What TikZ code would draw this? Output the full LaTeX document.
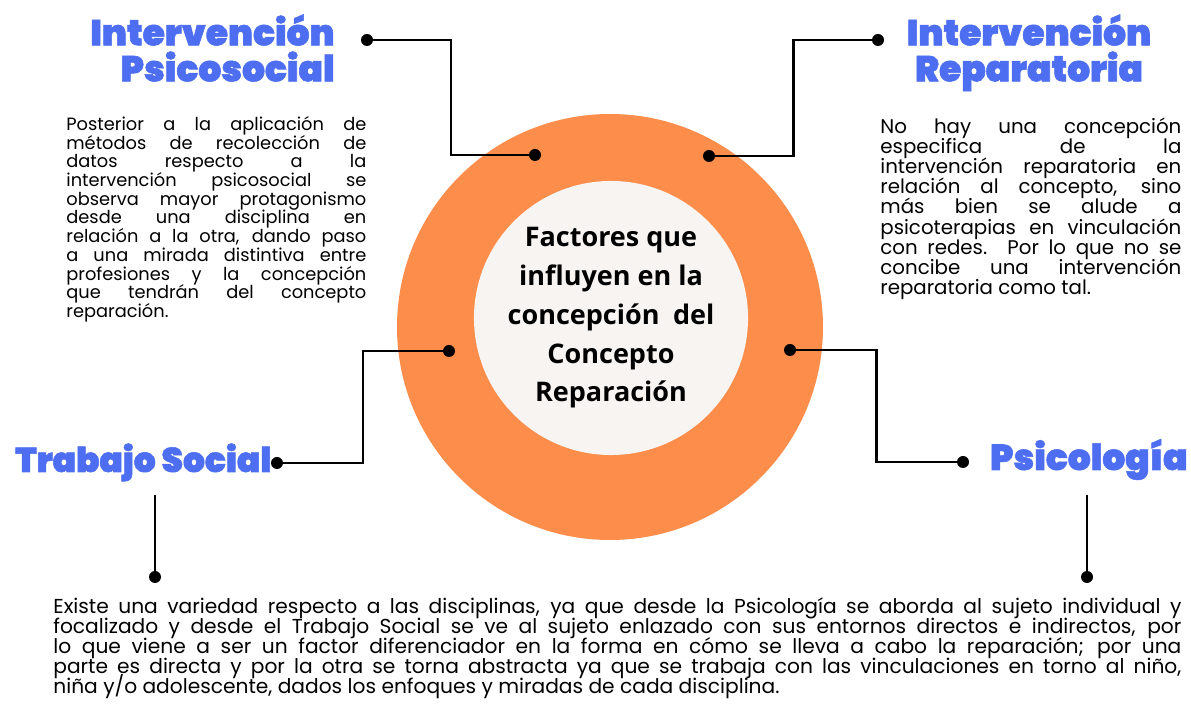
\documentclass[tikz,border=0pt]{standalone}
\usepackage{fontspec}
\setmainfont{Poppins}
\newfontfamily\headfont{Poppins Black}[FakeBold=1.5]
\newfontfamily\corefont{Open Sans}
\usetikzlibrary{calc}
\definecolor{titleblue}{RGB}{77,110,240}
\definecolor{ringorange}{RGB}{252,141,74}
\definecolor{corewhite}{RGB}{247,244,242}

\begin{document}
\begin{tikzpicture}[x=0.5pt,y=-0.5pt,dot/.style={circle,fill=black,inner sep=0pt,minimum size=6pt},link/.style={line width=1.4pt},title/.style={text=titleblue,font=\headfont\fontsize{18}{18}\selectfont,inner sep=0pt},body/.style={align=justify,inner sep=0pt,anchor=north west,execute at begin node={\lineskiplimit=-100pt\relax\lineskip=0pt\relax}}]
\useasboundingbox[fill=white] (0,0) rectangle (1191,705);

\node[circle,fill=ringorange,minimum size=213pt,inner sep=0pt] (ring) at (610,327) {};
\node[circle,fill=corewhite,minimum size=131pt,inner sep=0pt,align=center,font=\corefont\bfseries\fontsize{13.5}{19.4}\selectfont] (core) at (611,318) {Factores que\\influyen en la\\concepción\enspace del\\Concepto\\Reparación};

\node[title,anchor=north east,align=right] (psicosocial) at (335,14) {Intervención\\Psicosocial};
\node[title,anchor=north,align=center] (reparatoria) at (1029,14) {Intervención\\Reparatoria};
\node[title,anchor=base west,font=\headfont\fontsize{17.2}{18}\selectfont] (trabajo) at (15,472) {Trabajo Social};
\node[title,anchor=base east] (psicologia) at (1188,470) {Psicología};

\node[body,text width=150pt,font=\fontsize{8.9}{9.35}\selectfont] (psicosocialText) at (66,116) {Posterior a la aplicación de\linebreak métodos de recolección de\linebreak datos respecto a la\linebreak intervención psicosocial se\linebreak observa mayor protagonismo\linebreak desde una disciplina en\linebreak relación a la otra, dando paso\linebreak a una mirada distintiva entre\linebreak profesiones y la concepción\linebreak que tendrán del concepto\linebreak reparación.};
\node[body,text width=150.5pt,font=\fontsize{9.9}{10.1}\selectfont] (reparatoriaText) at (880,117) {No hay una concepción\linebreak especifica de la\linebreak intervención reparatoria en\linebreak relación al concepto, sino\linebreak más bien se alude a\linebreak psicoterapias en vinculación\linebreak con redes. Por lo que no se\linebreak concibe una intervención\linebreak reparatoria como tal.};
\node[body,text width=564pt,font=\fontsize{10.1}{10}\selectfont] (disciplinasText) at (53,597) {Existe una variedad respecto a las disciplinas, ya que desde la Psicología se aborda al sujeto individual y\linebreak focalizado y desde el Trabajo Social se ve al sujeto enlazado con sus entornos directos e indirectos, por\linebreak lo que viene a ser un factor diferenciador en la forma en cómo se lleva a cabo la reparación; por una\linebreak parte es directa y por la otra se torna abstracta ya que se trabaja con las vinculaciones en torno al niño,\linebreak niña y/o adolescente, dados los enfoques y miradas de cada disciplina.};

\node[dot] (psA) at (367,40) {};
\node[dot] (psB) at (535,155) {};
\node[dot] (reA) at (709,156) {};
\node[dot] (reB) at (878,40) {};
\node[dot] (tsA) at (449,351) {};
\node[dot] (tsB) at (277,463) {};
\node[dot] (pyA) at (790,350) {};
\node[dot] (pyB) at (963,462) {};
\node[dot] (tsC) at (155,577) {};
\node[dot] (pyC) at (1087,577) {};
\coordinate (tsTop) at (155,495);
\coordinate (pyTop) at (1087,495);

\draw[link] (psA) -| ($(psA)!0.5!(psB)$) |- (psB);
\draw[link] (reA) -| ($(reA)!0.5!(reB)$) |- (reB);
\draw[link] (tsA) -| ($(tsA)!0.5!(tsB)$) |- (tsB);
\draw[link] (pyA) -| ($(pyA)!0.5!(pyB)$) |- (pyB);
\draw[link] (tsTop) -- (tsC);
\draw[link] (pyTop) -- (pyC);
\end{tikzpicture}
\end{document}
